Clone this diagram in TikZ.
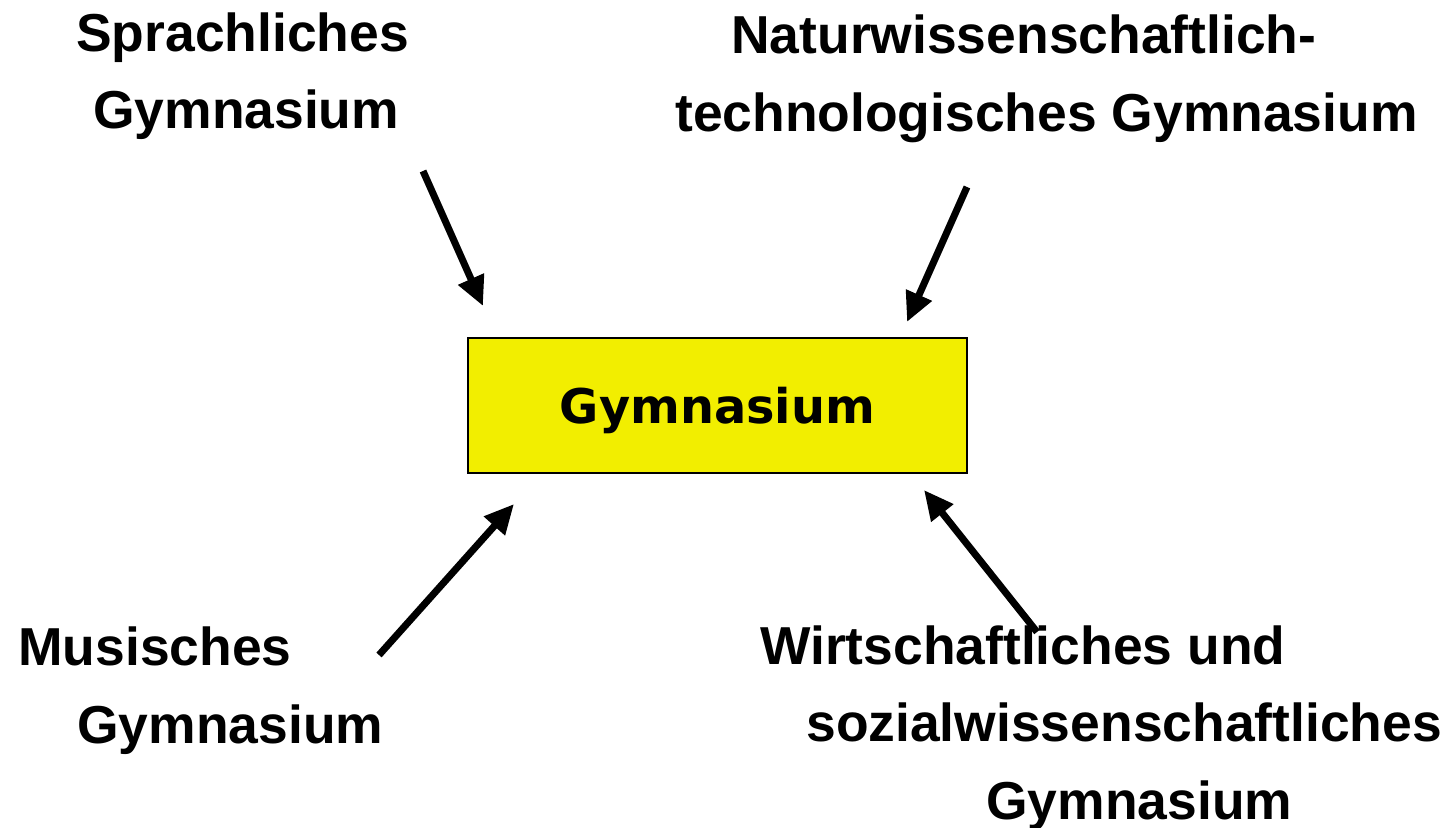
\documentclass[tikz,border=0pt]{standalone}
\usepackage{fontspec}
\setmainfont{Liberation Sans}
\newfontfamily\boxfont{DejaVu Sans}
\usetikzlibrary{arrows.meta}
\definecolor{gelb}{HTML}{F2EE00}
\begin{document}
\begin{tikzpicture}[x=0.025cm, y=-0.025cm,
    label/.style={inner sep=0pt, align=left, anchor=base west, font=\bfseries\fontsize{38}{55}\selectfont},
    pfeil/.style={line width=5pt, -{Triangle[length=21pt, width=19pt]}, shorten >=0pt}]

    \useasboundingbox (0,0) rectangle (1448,828);

    \node (g) at (717.5,405.5) [draw, line width=1.4pt, fill=gelb, minimum width=12.475cm, minimum height=3.375cm,
        text depth=0pt, font=\boxfont\bfseries\fontsize{34}{40}\selectfont] {Gymnasium};

    % base = last line
    \node (s) at (76,129) [label] {Sprachliches\\\hspace*{0.425cm}Gymnasium};
    \node (n) at (675,131) [label] {\hspace*{1.4cm}Naturwissenschaftlich-\\technologisches Gymnasium};
    \node (m) at (18,743) [label] {Musisches\\\hspace*{1.475cm}Gymnasium};
    \node (w) at (760,819) [label] {Wirtschaftliches und\\\hspace*{1.15cm}sozialwissenschaftliches\\\hspace*{5.65cm}Gymnasium};

    \coordinate (s1) at (423,171);
    \coordinate (s2) at (483,306);
    \coordinate (n1) at (967,187);
    \coordinate (n2) at (907,322);
    \coordinate (m1) at (379,655);
    \coordinate (m2) at (514,504);
    \coordinate (w1) at (1037,632);
    \coordinate (w2) at (924,490);

    \draw [pfeil] (s1) to (s2);
    \draw [pfeil] (n1) to (n2);
    \draw [pfeil] (m1) to (m2);
    \draw [pfeil] (w1) to (w2);

\end{tikzpicture}
\end{document}
